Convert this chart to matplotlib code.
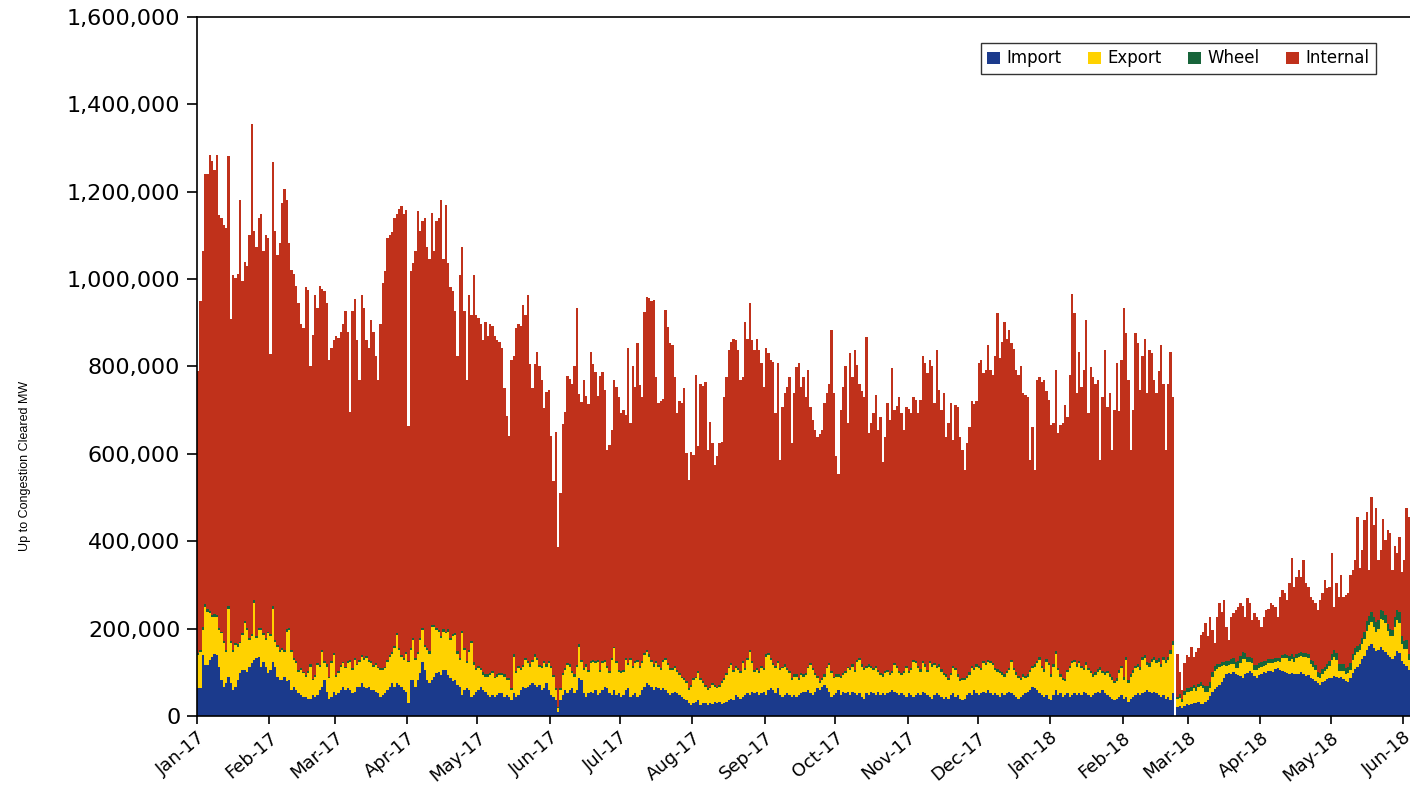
import numpy as np
import pandas as pd
import matplotlib
matplotlib.use("Agg")
import matplotlib.pyplot as plt
import matplotlib.dates as mdates
from matplotlib import font_manager
from matplotlib.ticker import FuncFormatter, MultipleLocator

# Daily values in thousands of MW (first day = 1 Jan 2017)
start_date = "2017-01-01"

# day total (top of the stack), Jan 2017 - mid Jun 2017
total_a = [
    790, 950, 1065, 1240, 1240, 1285, 1270, 1250, 1285, 1147,
    1140, 1124, 1118, 1281, 908, 1009, 1002, 1012, 1180, 995,
    1040, 1030, 1101, 1355, 1110, 1074, 1140, 1150, 1065, 1101,
    1095, 829, 1267, 1110, 1055, 1083, 1175, 1207, 1180, 1083,
    1020, 1012, 985, 945, 898, 889, 981, 975, 801, 871,
    963, 935, 985, 978, 972, 945, 815, 843, 861, 870,
    866, 880, 898, 926, 880, 696, 926, 954, 861, 770,
    963, 935, 861, 843, 907, 880, 825, 770, 898, 991,
    1018, 1095, 1101, 1108, 1140, 1150, 1160, 1168, 1150, 1158,
    664, 1018, 1037, 1065, 1157, 1110, 1132, 1140, 1074, 1046,
    1152, 1065, 1132, 1140, 1180, 1046, 1170, 1037, 981, 972,
    926, 825, 1009, 1074, 926, 770, 963, 917, 1009, 917,
    912, 898, 861, 903, 870, 898, 892, 870, 861, 855,
    843, 751, 687, 640, 815, 825, 889, 898, 892, 940,
    917, 963, 806, 751, 806, 834, 801, 770, 705, 742,
    747, 640, 539, 650, 387, 511, 668, 696, 779, 772,
    760, 801, 935, 737, 719, 770, 733, 714, 834, 806,
    788, 733, 779,
]
# mid Jun 2017 - Dec 2017
total_b = [
    788, 746, 609, 620, 655, 769, 754, 731, 693, 700,
    690, 842, 670, 800, 754, 853, 758, 731, 925, 960,
    956, 950, 952, 777, 716, 720, 725, 929, 891, 853,
    850, 777, 693, 720, 716, 750, 601, 540, 605, 598,
    781, 617, 761, 756, 765, 609, 674, 624, 575, 594,
    624, 628, 731, 777, 838, 857, 864, 860, 838, 769,
    775, 903, 864, 945, 861, 838, 864, 838, 807, 754,
    842, 830, 815, 810, 693, 807, 586, 708, 739, 754,
    777, 624, 739, 800, 807, 754, 777, 731, 792, 708,
    678, 655, 639, 645, 655, 716, 739, 761, 884, 739,
    594, 555, 700, 754, 800, 670, 830, 777, 838, 803,
    761, 745, 731, 868, 647, 670, 693, 735, 655, 685,
    582, 639, 716, 678, 796, 700, 710, 731, 693, 655,
    708, 702, 693, 731, 723, 693, 723, 823, 807, 784,
    815, 800, 716, 838, 746, 700, 739, 639, 670, 716,
    632, 712, 708, 639, 609, 563, 624, 662, 720, 715,
    720, 807, 815, 784, 792, 849, 792, 780, 823, 922,
    819, 857, 903, 864, 884, 853, 840, 792, 780,
]
# Dec 2017 - 22 Feb 2018
total_c = [
    800, 739, 735, 731, 586, 662, 563, 769, 777, 765,
    769, 745, 723, 666, 670, 792, 647, 666, 670, 712,
    685, 781, 967, 922, 739, 834, 754, 792, 907, 693,
    800, 777, 760, 769, 586, 731, 838, 708, 739, 609,
    700, 807, 697, 815, 933, 876, 769, 609, 700, 876,
    853, 746, 823, 864, 739, 838, 830, 769, 739, 790,
    849, 761, 609, 761, 834, 731,
]
# 23 Feb 2018 (no data) - early Jun 2018
total_d = [
    0,
    143, 101, 60, 121, 140, 136, 159, 136, 147, 155,
    185, 193, 212, 182, 227, 197, 166, 227, 258, 239,
    266, 204, 174, 227, 235, 243, 250, 258, 252, 227,
    269, 258, 220, 235, 227, 220, 204, 227, 243, 246,
    258, 254, 250, 227, 273, 288, 281, 266, 304, 361,
    296, 319, 334, 319, 357, 304, 296, 273, 266, 258,
    243, 266, 281, 311, 292, 296, 372, 250, 304, 273,
    323, 273, 276, 281, 323, 334, 357, 456, 338, 380,
    449, 468, 334, 502, 437, 475, 357, 380, 452, 403,
    426, 418, 334, 388, 372, 410, 330, 357, 475, 456,
]

import_a = [
    63, 63, 140, 117, 117, 128, 136, 143, 140, 113,
    82, 67, 75, 90, 75, 60, 67, 82, 98, 105,
    105, 101, 113, 121, 128, 132, 136, 113, 124, 113,
    98, 105, 124, 113, 90, 82, 82, 90, 79, 82,
    60, 67, 60, 52, 48, 44, 44, 40, 40, 48,
    44, 48, 60, 67, 82, 56, 40, 44, 56, 48,
    52, 60, 67, 60, 63, 60, 52, 56, 67, 67,
    75, 67, 63, 67, 60, 60, 56, 52, 44, 48,
    52, 60, 67, 75, 67, 75, 71, 67, 60, 56,
    29, 82, 82, 67, 82, 98, 124, 105, 82, 75,
    82, 90, 98, 101, 94, 105, 105, 94, 86, 79,
    82, 71, 67, 48, 60, 63, 60, 44, 48, 56,
    60, 67, 60, 56, 48, 44, 48, 44, 48, 52,
]
import_b = [
    52, 44, 48, 44, 37, 52, 44, 48, 60, 67,
    63, 67, 71, 75, 71, 67, 71, 60, 63, 75,
    60, 48, 44, 37, 10, 37, 48, 60, 52, 60,
    63, 52, 60, 86, 82, 52, 44, 52, 56, 52,
    60, 48, 52, 60, 67, 63, 52, 48, 60, 48,
    52, 44, 48, 60, 63, 44, 48, 52, 44, 48,
    60, 67, 75, 71, 67, 60, 67, 63, 60, 63,
    60, 52, 48, 52, 56, 52, 48, 44, 40, 37,
    29, 25, 29, 33, 37, 25, 29, 29, 25, 29,
    27, 31, 29, 31, 27, 29, 33, 37, 40, 37,
    48, 44, 40, 44, 48, 52, 48, 56, 52, 56,
    48, 52, 56, 48, 60, 63, 60, 52, 63, 48,
    44, 48, 52, 48, 44, 48, 44, 48, 52, 56,
]
import_c = [
    56, 60, 52, 48, 56, 63, 60, 67, 71, 63,
    56, 44, 48, 52, 60, 48, 56, 52, 56, 48,
    56, 52, 48, 52, 44, 40, 52, 48, 56, 52,
    48, 56, 48, 52, 48, 52, 56, 60, 56, 52,
    48, 52, 48, 44, 52, 48, 44, 48, 52, 48,
    56, 52, 48, 44, 40, 48, 52, 48, 44, 40,
    44, 40, 48, 52, 44, 48, 40, 37, 40, 48,
    52, 48, 60, 52, 48, 52, 56, 52, 60, 52,
    48, 52, 48, 44, 52, 48, 52, 56, 52, 48,
    44, 40, 44, 48, 52, 56, 60, 67, 63, 60,
    52, 48, 44, 48, 40, 37, 48, 60, 48, 52,
    44, 48, 52, 44, 48, 52, 48, 52, 48, 56,
    52, 48, 44, 48, 52, 56, 52,
    60, 52, 48, 44, 40, 37, 40, 44, 48, 40,
    44, 33, 40, 44, 48, 52, 48, 52, 56, 60,
    56, 52, 56, 52, 48, 44, 48, 40, 44, 37,
    52,
]
import_d = [
    0,
    20, 22, 18, 24, 27, 25, 28, 30, 29, 31, 28, 27,
    33, 36, 45, 55, 62, 66, 72, 78, 86, 95, 99, 97,
    100, 96, 94, 92, 88, 95, 99, 103, 98, 92, 88, 94,
    97, 100, 99, 102, 104, 100, 108, 110, 106, 104, 100, 98,
    96, 99, 95, 97, 95, 100, 96, 92, 94, 88, 85, 80,
    76, 72, 78, 80, 84, 86, 88, 92, 90, 86, 90, 84,
    80, 78, 88, 98, 108, 112, 120, 130, 138, 150, 160, 165,
    155, 148, 152, 158, 150, 146, 140, 134, 130, 138, 148, 145,
    125, 118, 115, 105,
]

export_a = [
    77, 84, 57, 133, 122, 107, 91, 84, 87, 84,
    107, 99, 72, 156, 91, 87, 96, 77, 68, 80,
    107, 96, 61, 61, 130, 46, 61, 84, 61, 61,
    91, 77, 122, 57, 69, 65, 69, 57, 114, 115,
    87, 61, 61, 49, 57, 54, 46, 58, 73, 34,
    46, 69, 53, 80, 39, 57, 46, 77, 84, 42,
    46, 53, 54, 49, 58, 64, 53, 72, 50, 57,
    61, 61, 69, 57, 61, 53, 61, 57, 61, 57,
    57, 64, 69, 68, 88, 110, 80, 69, 68, 87,
    95, 69, 92, 61, 61, 76, 73, 54, 69, 68,
    122, 114, 99, 92, 84, 88, 84, 99, 88, 103,
    103, 72, 61, 141, 91, 58, 87, 122, 69, 49,
    49, 38, 34, 34, 42, 50, 50, 42, 42, 42,
]
export_b = [
    42, 46, 34, 38, 23, 84, 54, 61, 45, 46,
    65, 54, 42, 49, 65, 61, 42, 49, 58, 38,
    61, 61, 46, 23, 8, 23, 46, 45, 65, 53,
    35, 38, 53, 73, 42, 53, 69, 49, 65, 72,
    61, 76, 49, 61, 57, 46, 46, 80, 95, 73,
    49, 54, 53, 68, 54, 84, 61, 69, 80, 61,
    61, 73, 72, 65, 57, 53, 54, 50, 45, 61,
    68, 65, 57, 53, 53, 49, 46, 42, 42, 38,
    31, 42, 53, 53, 61, 57, 46, 38, 35, 34,
    44, 36, 34, 36, 48, 53, 61, 72, 77, 64,
    61, 61, 58, 77, 57, 76, 99, 65, 49, 49,
    50, 57, 49, 88, 80, 65, 57, 57, 58, 57,
    65, 65, 53, 50, 38, 42, 46, 34, 42, 34,
]
export_c = [
    38, 49, 65, 57, 38, 23, 15, 15, 19, 46,
    61, 54, 38, 38, 30, 38, 38, 46, 53, 57,
    57, 49, 76, 76, 69, 65, 57, 65, 53, 53,
    61, 45, 46, 38, 50, 49, 38, 38, 61, 57,
    50, 42, 50, 65, 46, 57, 80, 73, 57, 53,
    65, 61, 53, 77, 73, 69, 57, 65, 57, 54,
    46, 42, 46, 57, 61, 42, 39, 45, 42, 38,
    42, 61, 45, 61, 61, 53, 65, 65, 64, 69,
    69, 53, 53, 54, 42, 42, 46, 49, 72, 57,
    50, 46, 38, 42, 34, 34, 41, 42, 50, 61,
    76, 61, 57, 76, 77, 53, 65, 83, 57, 38,
    38, 31, 49, 65, 73, 72, 65, 69, 61, 49,
    65, 57, 54, 42, 42, 45, 53,
    38, 42, 50, 46, 42, 38, 39, 54, 61, 42,
    84, 42, 50, 54, 61, 61, 57, 76, 76, 57,
    57, 72, 72, 69, 76, 69, 80, 81, 84, 106,
    111,
]
export_d = [
    0,
    18, 20, 15, 25, 28, 30, 30, 33, 28, 35, 40, 36,
    22, 18, 20, 35, 40, 42, 40, 36, 30, 20, 18, 22,
    18, 14, 16, 30, 42, 36, 25, 20, 24, 14, 18, 16,
    16, 14, 18, 20, 18, 22, 16, 15, 18, 28, 32, 34,
    30, 32, 28, 36, 40, 38, 40, 44, 38, 30, 28, 26,
    14, 16, 18, 22, 24, 28, 40, 44, 38, 18, 14, 20,
    16, 20, 18, 30, 32, 35, 30, 34, 38, 44, 48, 50,
    48, 44, 46, 65, 70, 68, 55, 50, 52, 66, 72, 68,
    40, 36, 38, 23,
]

wheel_abc = [
    4, 5, 6, 7, 6, 6, 5, 6, 5, 5,
    4, 5, 4, 6, 5, 4, 5, 5, 4, 5,
    5, 4, 5, 6, 7, 5, 5, 4, 5, 5,
    4, 5, 6, 5, 4, 4, 5, 4, 5, 5,
    4, 4, 5, 4, 4, 3, 4, 4, 5, 3,
    4, 4, 3, 4, 4, 5, 4, 4, 5, 4,
    4, 4, 3, 4, 4, 5, 4, 4, 3, 4,
    4, 4, 5, 4, 4, 3, 4, 4, 5, 4,
    4, 5, 4, 4, 5, 5, 4, 4, 5, 4,
    3, 4, 5, 4, 4, 5, 5, 4, 4, 5,
    5, 4, 5, 4, 5, 5, 4, 5, 4, 5,
    5, 6, 5, 5, 4, 6, 5, 5, 6, 5,
    5, 5, 6, 5, 5, 5, 5, 4, 5, 5,
    4, 5, 4, 4, 3, 5, 4, 5, 5, 4,
    5, 4, 5, 4, 5, 5, 4, 5, 4, 5,
    4, 5, 4, 3, 2, 3, 4, 5, 4, 5,
    4, 5, 4, 5, 4, 4, 5, 4, 5, 4,
    5, 4, 5, 4, 4, 5, 4, 5, 4, 5,
    4, 5, 5, 4, 5, 4, 5, 5, 4, 5,
    5, 4, 5, 5, 4, 5, 4, 4, 5, 4,
    4, 5, 4, 4, 5, 4, 5, 4, 5, 4,
    4, 4, 5, 4, 4, 5, 4, 5, 4, 4,
    5, 4, 4, 5, 4, 5, 5, 4, 5, 4,
    5, 4, 5, 4, 5, 4, 4, 5, 4, 5,
    5, 5, 4, 5, 5, 4, 5, 5, 4, 5,
    4, 5, 5, 4, 5, 5, 5, 4, 5, 5,
    5, 4, 5, 5, 4, 5, 6, 5, 5, 4,
    5, 5, 4, 5, 5, 6, 5, 5, 4, 5,
    5, 5, 5, 4, 5, 5, 6, 5, 5, 5,
    5, 4, 5, 5, 6, 5, 5, 4, 5, 5,
    5, 5, 6, 5, 5, 5, 4, 5, 5, 6,
    5, 5, 4, 5, 6, 5, 5, 5, 6, 5,
    5, 6, 5, 5, 5, 6, 5, 5, 6, 5,
    6, 5, 5, 6, 5, 5, 6, 5, 5, 6,
    5, 5, 6, 5, 6, 5, 5, 6, 5, 5,
    6, 5, 6, 5, 5, 6, 5, 6, 5, 6,
    6, 5, 6, 6, 5, 6, 5, 6, 6, 5,
    6, 6, 5, 6, 6, 5, 6, 6, 5, 6,
    7, 6, 6, 7, 6, 6, 7, 6, 7, 6,
    6, 7, 6, 7, 7, 6, 7, 6, 7, 7,
    7, 6, 7, 7, 6, 7, 7, 8, 7, 7,
    7, 8, 7, 8, 7, 8, 8, 9,
]
wheel_d = [
    0,
    6, 8, 7, 8, 9, 8, 8, 7, 9, 8, 9, 8,
    14, 15, 13, 11, 12, 10, 8, 9, 8, 11, 10, 12,
    15, 14, 16, 15, 16, 14, 11, 12, 10, 11, 10, 12,
    11, 12, 10, 8, 9, 8, 8, 8, 9, 8, 9, 8,
    11, 10, 12, 8, 9, 8, 8, 8, 9, 11, 12, 10,
    11, 10, 12, 11, 12, 11, 15, 14, 16, 15, 16, 14,
    15, 14, 15, 15, 16, 14, 15, 14, 16, 23, 22, 24,
    23, 24, 22, 19, 20, 18, 15, 16, 14, 23, 22, 24,
    19, 18, 20, 15,
]

series_names = ["Import", "Export", "Wheel", "Internal"]
series_colors = ["#1b3a8c", "#ffd200", "#17643a", "#c0311b"]

total = np.array(total_a + total_b + total_c + total_d) * 1000.0
imp = np.array(import_a + import_b + import_c + import_d) * 1000.0
exp = np.array(export_a + export_b + export_c + export_d) * 1000.0
whl = np.array(wheel_abc + wheel_d) * 1000.0
internal = np.maximum(total - imp - exp - whl, 0)

dates = pd.date_range(start_date, periods=len(total), freq="D")
x = mdates.date2num(dates)

fig = plt.figure(figsize=(14.1, 7.89), dpi=100)
ax = fig.add_axes([197 / 1410, 73 / 789, (1410 - 197) / 1410, (716 - 17) / 789])

bottom = np.zeros(len(total))
handles = []
for vals, name, col in zip([imp, exp, whl, internal], series_names, series_colors):
    bars = ax.bar(x, vals, width=1.0, bottom=bottom, align="edge", color=col,
                  linewidth=0, antialiased=False, label=name)
    handles.append(bars)
    bottom = bottom + vals

ax.set_xlim(x[0], x[0] + 519)
ax.set_ylim(0, 1600000)
ax.yaxis.set_major_locator(MultipleLocator(200000))
ax.yaxis.set_major_formatter(FuncFormatter(lambda v, p: f"{v:,.0f}"))
ax.xaxis.set_major_locator(mdates.MonthLocator())
ax.xaxis.set_major_formatter(mdates.DateFormatter("%b-%y"))

ax.spines["right"].set_visible(False)
for s in ["left", "bottom", "top"]:
    ax.spines[s].set_linewidth(1.2)
    ax.spines[s].set_color("black")

ax.tick_params(axis="y", direction="out", length=7, width=1.2, labelsize=16, pad=5, colors="black")
ax.tick_params(axis="x", direction="out", length=6, width=1.2, labelsize=13, pad=3, colors="black")
for lbl in ax.get_xticklabels():
    lbl.set_rotation(40)
    lbl.set_ha("right")
    lbl.set_rotation_mode("anchor")

# narrow font for the axis title if there is one, else plain Arial-like font
installed = {f.name for f in font_manager.fontManager.ttflist}
if "Liberation Sans Narrow" in installed:
    ylab_family, ylab_size = "Liberation Sans Narrow", 10.5
else:
    ylab_family, ylab_size = "Liberation Sans", 9
fig.text(25 / 1410, 1 - 466 / 789, "Up to Congestion Cleared MW", rotation=90,
         ha="center", va="center", fontsize=ylab_size, family=[ylab_family, "DejaVu Sans"])

leg = ax.legend(handles=handles, labels=series_names, loc="upper right",
                bbox_to_anchor=(0.979, 0.975), ncol=4, fontsize=12, frameon=True,
                fancybox=False, edgecolor="black", handlelength=0.75, handleheight=0.75,
                handletextpad=0.4, columnspacing=1.6, borderpad=0.4)
leg.get_frame().set_linewidth(1.0)

fig.savefig("out.png", dpi=100)
